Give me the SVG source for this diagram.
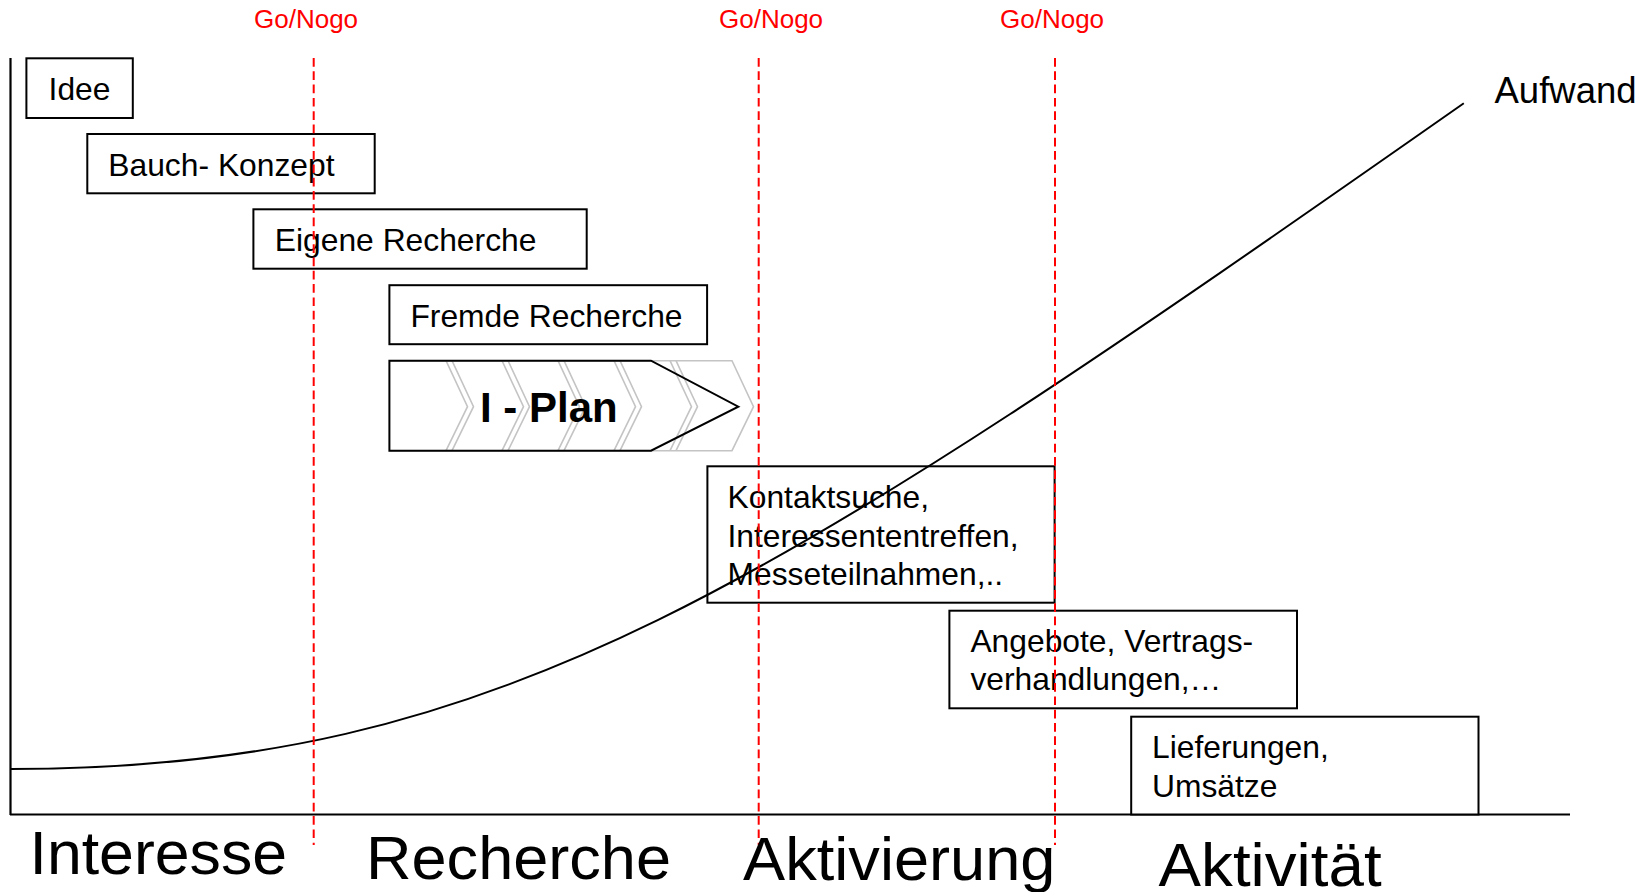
<svg xmlns="http://www.w3.org/2000/svg" width="1650" height="892" viewBox="0 0 1650 892">
  <style>
    .box { fill: #ffffff; stroke: #000000; stroke-width: 2; }
    .txt { font-family: "Liberation Sans", Arial, sans-serif; font-size: 31.8px; fill: #000000; }
    .gate { font-family: "Liberation Sans", Arial, sans-serif; font-size: 26px; fill: #ff0000; }
    .phase { font-family: "Liberation Sans", Arial, sans-serif; font-size: 62px; fill: #000000; }
    .axis { stroke: #000000; stroke-width: 2.2; fill: none; }
    .gateline { stroke: #ff0000; stroke-width: 2; stroke-dasharray: 8.7 4.6; fill: none; }
    .ghost { stroke: #c4c4c4; stroke-width: 1.6; fill: none; stroke-linejoin: miter; }
  </style>

  <rect width="1650" height="892" fill="#ffffff"/>

  <!-- axes -->
  <g id="axes">
    <line class="axis" x1="10.5" y1="58" x2="10.5" y2="815"/>
    <line class="axis" x1="10" y1="814.5" x2="1570" y2="814.5"/>
  </g>

  <!-- phase boxes -->
  <g id="idee">
    <rect class="box" x="26.4" y="58.3" width="106.4" height="59.7"/>
    <text class="txt" x="48.6" y="100">Idee</text>
  </g>
  <g id="bauch-konzept">
    <rect class="box" x="87.3" y="134" width="287.4" height="59.3"/>
    <text class="txt" x="108.3" y="176">Bauch- Konzept</text>
  </g>
  <g id="eigene-recherche">
    <rect class="box" x="253.4" y="209.3" width="333.3" height="59.4"/>
    <text class="txt" x="274.8" y="250.7">Eigene Recherche</text>
  </g>
  <g id="fremde-recherche">
    <rect class="box" x="389.4" y="285.2" width="317.7" height="59"/>
    <text class="txt" x="410.4" y="327.3">Fremde Recherche</text>
  </g>

  <!-- I-Plan chevron with faint process arrows behind -->
  <g id="i-plan">
    <g class="ghost">
      <polyline points="389.4,360.7 732,360.7 753.5,406.7 732,450.7 389.4,450.7"/>
      <polyline points="446,360.7 467.5,406.7 446,450.7"/>
      <polyline points="452,360.7 473.5,406.7 452,450.7"/>
      <polyline points="502,360.7 523.5,406.7 502,450.7"/>
      <polyline points="508,360.7 529.5,406.7 508,450.7"/>
      <polyline points="558,360.7 579.5,406.7 558,450.7"/>
      <polyline points="564,360.7 585.5,406.7 564,450.7"/>
      <polyline points="614,360.7 635.5,406.7 614,450.7"/>
      <polyline points="620,360.7 641.5,406.7 620,450.7"/>
      <polyline points="670,360.7 691.5,406.7 670,450.7"/>
      <polyline points="676,360.7 697.5,406.7 676,450.7"/>
    </g>
    <polygon points="389.4,360.7 651,360.7 738.3,406.7 651,450.7 389.4,450.7" fill="none" stroke="#000000" stroke-width="2"/>
    <text x="480" y="421.7" font-family="'Liberation Sans', Arial, sans-serif" font-size="42" font-weight="bold" fill="#000000">I - Plan</text>
  </g>

  <g id="kontaktsuche">
    <rect class="box" x="707.4" y="466.3" width="347.2" height="136.4"/>
    <text class="txt" x="727.5" y="508.3">Kontaktsuche,</text>
    <text class="txt" x="727.5" y="547.3">Interessententreffen,</text>
    <text class="txt" x="727.5" y="584.5">Messeteilnahmen,..</text>
  </g>
  <g id="angebote">
    <rect class="box" x="949.4" y="610.7" width="347.6" height="97.6"/>
    <text class="txt" x="970.4" y="651.7">Angebote, Vertrags-</text>
    <text class="txt" x="970.4" y="690">verhandlungen,…</text>
  </g>
  <g id="lieferungen">
    <rect class="box" x="1131.2" y="716.7" width="347.3" height="97.8"/>
    <text class="txt" x="1152" y="758.3">Lieferungen,</text>
    <text class="txt" x="1152" y="796.7">Umsätze</text>
  </g>

  <!-- effort curve and go/nogo gates -->
  <g id="connectors">
    <path d="M10.5 769 C500 769 763.8 593.3 1463.8 103.3" fill="none" stroke="#000000" stroke-width="2"/>
    <line class="gateline" x1="313.7" y1="58" x2="313.7" y2="845"/>
    <line class="gateline" x1="758.7" y1="58" x2="758.7" y2="845"/>
    <line class="gateline" x1="1055" y1="58" x2="1055" y2="845"/>
  </g>

  <g id="labels">
    <text class="gate" x="254" y="28.4">Go/Nogo</text>
    <text class="gate" x="719" y="28.4">Go/Nogo</text>
    <text class="gate" x="1000" y="28.4">Go/Nogo</text>
    <text x="1494.5" y="102.7" font-family="'Liberation Sans', Arial, sans-serif" font-size="36.5" fill="#000000">Aufwand</text>
  </g>

  <g id="phases">
    <text class="phase" x="29.5" y="874" textLength="257.5" lengthAdjust="spacingAndGlyphs">Interesse</text>
    <text class="phase" x="366" y="879" textLength="305" lengthAdjust="spacingAndGlyphs">Recherche</text>
    <text class="phase" x="743" y="880" textLength="312.5" lengthAdjust="spacingAndGlyphs">Aktivierung</text>
    <text class="phase" x="1158.6" y="885.7" textLength="223" lengthAdjust="spacingAndGlyphs">Aktivität</text>
  </g>
</svg>
